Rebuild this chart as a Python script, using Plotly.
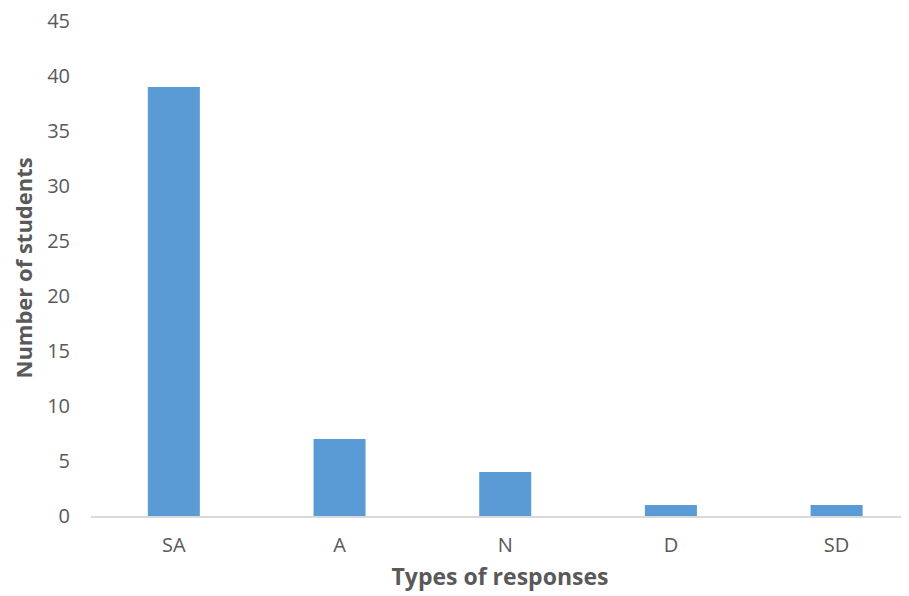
import plotly.graph_objects as go

categories = ["SA", "A", "N", "D", "SD"]
students = [39, 7, 4, 1, 1]
y_ticks = [0, 5, 10, 15, 20, 25, 30, 35, 40, 45]

font_family = "Open Sans, Liberation Sans, sans-serif"
grey = "#595959"

fig = go.Figure(go.Bar(
    x=categories, y=students,
    marker=dict(color="#5B9BD5", line=dict(color="#5B9BD5", width=0)),
))

# page has an 8px body margin, so the figure is sized/offset to compensate
fig.update_layout(
    width=901, height=588,
    margin=dict(l=83, r=0, t=13, b=80),
    paper_bgcolor="white", plot_bgcolor="white",
    bargap=0.686,
    showlegend=False,
    font=dict(family=font_family, color=grey),
    xaxis=dict(
        range=[-0.5, 4.437],
        showline=True, linecolor="#D9D9D9", linewidth=1.5,
        showgrid=False, zeroline=False,
        ticks="outside", ticklen=10, tickcolor="rgba(0,0,0,0)",
        tickfont=dict(size=20, color=grey, family=font_family),
        title=dict(text="<b>Types of responses</b>", standoff=12,
                   font=dict(size=23, color=grey, family=font_family)),
    ),
    yaxis=dict(
        range=[0, 45],
        tickvals=y_ticks,
        ticklabeloverflow="allow",
        showline=False, showgrid=False, zeroline=False,
        ticks="outside", ticklen=16, tickcolor="rgba(0,0,0,0)",
        tickfont=dict(size=20, color=grey, family=font_family),
    ),
    annotations=[dict(
        text="<b>Number of students</b>", textangle=-90,
        xref="paper", yref="paper", x=0, y=0.5,
        xanchor="center", yanchor="middle", xshift=-69,
        showarrow=False,
        font=dict(size=22, color=grey, family=font_family),
    )],
)

fig.write_html("out.html")
